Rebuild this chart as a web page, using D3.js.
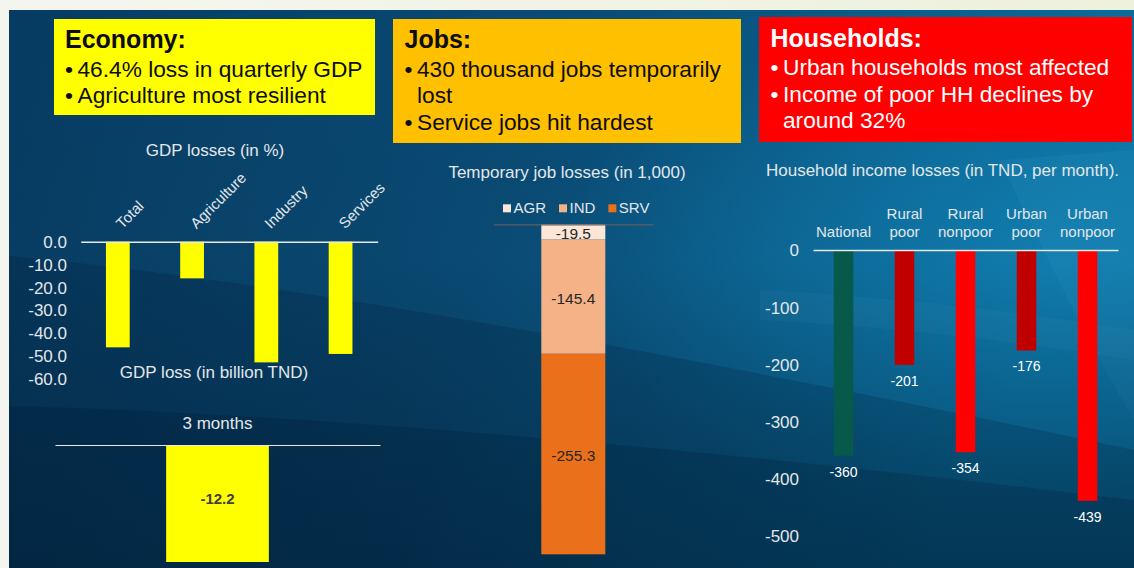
<!DOCTYPE html>
<html><head><meta charset="utf-8">
<script src="https://cdn.jsdelivr.net/npm/d3@7"></script>
<style>
body{margin:0;background:#f3f4ec;overflow:hidden;}
svg{display:block;font-family:"Liberation Sans",Arial,sans-serif;}
</style>
</head><body>
<svg id="c" width="1134" height="568"></svg>
<script>
// ---------------- DATA ----------------
const gdpCategories = ["Total", "Agriculture", "Industry", "Services"];
const gdpLosses = [-46.4, -16.1, -53.0, -49.3];
const gdpTicks = [0, -10, -20, -30, -40, -50, -60];

const gdpLossPeriods = ["3 months"];
const gdpLossValues = [-12.2];

const jobSectors = ["AGR", "IND", "SRV"];
const jobLosses = [-19.5, -145.4, -255.3];

const hhCategories = ["National", "Rural poor", "Rural nonpoor", "Urban poor", "Urban nonpoor"];
const hhLabelLines = [["National"], ["Rural", "poor"], ["Rural", "nonpoor"], ["Urban", "poor"], ["Urban", "nonpoor"]];
const hhLosses = [-360, -201, -354, -176, -439];
const hhTicks = [0, -100, -200, -300, -400, -500];

const economyText = ["Economy:", "46.4% loss in quarterly GDP", "Agriculture most resilient"];
const jobsText = ["Jobs:", "430 thousand jobs temporarily", "lost", "Service jobs hit hardest"];
const householdsText = ["Households:", "Urban households most affected", "Income of poor HH declines by", "around 32%"];

// ---------------- STYLES ----------------
const jobColors = ["#fce6d8", "#f5b286", "#ea701b"];
const hhColors = ["#075a4a", "#c00000", "#ff0000", "#c00000", "#ff0000"];
const axisText = "#e3e7ea";

const svg = d3.select("#c");
const W = 1134, H = 568;
const defs = svg.append("defs");

// ---------------- BACKGROUND ----------------
const gH = defs.append("linearGradient").attr("id", "bgH")
  .attr("x1", "0").attr("y1", "0").attr("x2", "1").attr("y2", "0.25");
gH.append("stop").attr("offset", "0").attr("stop-color", "#073b61");
gH.append("stop").attr("offset", "0.5").attr("stop-color", "#0a4c76");
gH.append("stop").attr("offset", "1").attr("stop-color", "#0a70a0");
const gV = defs.append("linearGradient").attr("id", "bgV")
  .attr("x1", "0").attr("y1", "0").attr("x2", "0").attr("y2", "1");
gV.append("stop").attr("offset", "0").attr("stop-color", "#001a30").attr("stop-opacity", 0);
gV.append("stop").attr("offset", "0.45").attr("stop-color", "#001a30").attr("stop-opacity", 0.05);
gV.append("stop").attr("offset", "1").attr("stop-color", "#001a30").attr("stop-opacity", 0.45);
const gR = defs.append("radialGradient").attr("id", "bgR")
  .attr("cx", "0.93").attr("cy", "0.45").attr("r", "0.45");
gR.append("stop").attr("offset", "0").attr("stop-color", "#1a9ad0").attr("stop-opacity", 0.45);
gR.append("stop").attr("offset", "1").attr("stop-color", "#1a9ad0").attr("stop-opacity", 0);
const gTop = defs.append("linearGradient").attr("id", "bgTop")
  .attr("x1", "0").attr("y1", "0").attr("x2", "1").attr("y2", "0");
gTop.append("stop").attr("offset", "0").attr("stop-color", "#f5f5f0");
gTop.append("stop").attr("offset", "1").attr("stop-color", "#eef1dc");

svg.append("rect").attr("width", W).attr("height", H).attr("fill", "url(#bgTop)");
svg.append("rect").attr("x", 9).attr("y", 10).attr("width", W - 9).attr("height", H - 10).attr("fill", "url(#bgH)");
svg.append("rect").attr("x", 9).attr("y", 10).attr("width", W - 9).attr("height", H - 10).attr("fill", "url(#bgR)");
svg.append("path").attr("d", "M9,256 Q380,290 1134,450 L1134,568 L9,568Z").attr("fill", "rgba(0,18,38,0.18)");
svg.append("path").attr("d", "M9,406 Q450,418 1134,500 L1134,568 L9,568Z").attr("fill", "rgba(0,12,28,0.18)");
svg.append("path").attr("d", "M760,290 Q950,300 1134,330 L1134,360 Q950,330 760,320Z").attr("fill", "rgba(120,200,235,0.06)");
svg.append("path").attr("d", "M1000,160 L1134,150 L1134,420 Q1080,330 1000,160Z").attr("fill", "rgba(120,200,235,0.07)");
svg.append("rect").attr("x", 9).attr("y", 10).attr("width", W - 9).attr("height", H - 10).attr("fill", "url(#bgV)");

// ---------------- TEXT BOXES ----------------
function textBox(x, y, w, h, fill, color, lines, textX, bullets, baselines) {
  const g = svg.append("g");
  g.append("rect").attr("x", x).attr("y", y).attr("width", w).attr("height", h).attr("fill", fill);
  lines.forEach((t, i) => {
    if (i === 0) {
      g.append("text").attr("x", textX).attr("y", baselines[0]).attr("fill", color)
        .attr("font-size", 25).attr("font-weight", "bold").text(t);
    } else {
      if (bullets[i]) {
        g.append("text").attr("x", textX).attr("y", baselines[i]).attr("fill", color)
          .attr("font-size", 22.7).text("\u2022");
      }
      g.append("text").attr("x", textX + 12.5).attr("y", baselines[i]).attr("fill", color)
        .attr("font-size", 22.7).text(t);
    }
  });
}
textBox(54, 19, 321, 96, "#ffff00", "#0d0d0d", economyText, 65, [false, true, true], [47.7, 76.7, 103.3]);
textBox(393, 19, 348, 124, "#ffc000", "#0d0d0d", jobsText, 404.5, [false, true, false, true], [47.7, 76.5, 102.5, 130]);
textBox(759, 17, 373, 125, "#ff0000", "#ffffff", householdsText, 770.5, [false, true, true, false], [46.7, 75, 101.7, 128.3]);

// ---------------- GDP LOSSES (in %) ----------------
{
  const x = d3.scaleBand().domain(gdpCategories).range([80.7, 377.7]).paddingInner(0.68).paddingOuter(0.34);
  const y = d3.scaleLinear().domain([-60, 0]).range([378.3, 241.7]);
  const g = svg.append("g");
  g.append("text").attr("x", 215).attr("y", 155.7).attr("text-anchor", "middle")
    .attr("fill", axisText).attr("font-size", 17).text("GDP losses (in %)");
  const ax = g.append("g").attr("transform", "translate(70,0.5)")
    .call(d3.axisLeft(y).tickValues(gdpTicks).tickSize(0).tickPadding(3).tickFormat(d => d.toFixed(1)));
  ax.select(".domain").remove();
  ax.selectAll("text").attr("fill", axisText).attr("font-size", 17).attr("font-family", "Liberation Sans, Arial, sans-serif");
  g.selectAll("rect.bar").data(gdpLosses).join("rect").attr("class", "bar")
    .attr("x", (d, i) => x(gdpCategories[i])).attr("width", x.bandwidth())
    .attr("y", y(0)).attr("height", d => y(d) - y(0)).attr("fill", "#ffff00");
  const base = g.append("g").attr("transform", `translate(0,${y(0)})`)
    .call(d3.axisBottom(x).tickSize(0).tickFormat(""));
  base.select(".domain").attr("stroke", "#e8e8e8").attr("stroke-width", 1.5);
  g.selectAll("text.cat").data(gdpCategories).join("text").attr("class", "cat")
    .attr("transform", d => `translate(${x(d) + x.bandwidth() / 2 + 4.5},229.5) rotate(-45)`)
    .attr("fill", axisText).attr("font-size", 15).text(d => d);
}

// ---------------- GDP LOSS (in billion TND) ----------------
{
  const x = d3.scaleBand().domain(gdpLossPeriods).range([55, 380]).paddingInner(0.684).paddingOuter(0.342);
  const y = d3.scaleLinear().domain([-12.2, 0]).range([562, 445]);
  const g = svg.append("g");
  g.append("text").attr("x", 214).attr("y", 377.7).attr("text-anchor", "middle")
    .attr("fill", axisText).attr("font-size", 17).text("GDP loss (in billion TND)");
  g.selectAll("text.cat").data(gdpLossPeriods).join("text").attr("class", "cat")
    .attr("x", d => x(d) + x.bandwidth() / 2).attr("y", 429.3).attr("text-anchor", "middle")
    .attr("fill", axisText).attr("font-size", 17).text(d => d);
  g.selectAll("rect.bar").data(gdpLossValues).join("rect").attr("class", "bar")
    .attr("x", (d, i) => x(gdpLossPeriods[i])).attr("width", x.bandwidth())
    .attr("y", y(0)).attr("height", d => y(d) - y(0)).attr("fill", "#ffff00");
  g.selectAll("text.val").data(gdpLossValues).join("text").attr("class", "val")
    .attr("x", (d, i) => x(gdpLossPeriods[i]) + x.bandwidth() / 2)
    .attr("y", d => (y(0) + y(d)) / 2 - 4.5).attr("dy", "0.35em").attr("text-anchor", "middle")
    .attr("fill", "#404040").attr("font-size", 15).attr("font-weight", "bold").text(d => d.toFixed(1));
  const base = g.append("g").attr("transform", `translate(0,${y(0)})`)
    .call(d3.axisBottom(x).tickSize(0).tickFormat(""));
  base.select(".domain").attr("stroke", "#e8e8e8").attr("stroke-width", 1.2);
}

// ---------------- TEMPORARY JOB LOSSES ----------------
{
  const x = d3.scaleBand().domain(["Jobs"]).range([493.3, 653.3]).paddingInner(0.6).paddingOuter(0.3);
  const y = d3.scaleLinear().domain([-420.2, 0]).range([554.3, 224.3]);
  const g = svg.append("g");
  g.append("text").attr("x", 567).attr("y", 177.7).attr("text-anchor", "middle")
    .attr("fill", axisText).attr("font-size", 17).text("Temporary job losses (in 1,000)");
  // legend
  let lx = 503;
  jobSectors.forEach((s, i) => {
    g.append("rect").attr("x", lx).attr("y", 204.3).attr("width", 8).attr("height", 8).attr("fill", jobColors[i]);
    const t = g.append("text").attr("x", lx + 10.5).attr("y", 213.3).attr("fill", axisText)
      .attr("font-size", 15).text(s);
    lx += 10.5 + t.node().getComputedTextLength() + 13;
  });
  // stacked segments
  let cum = 0;
  const segs = jobLosses.map(v => { const s = { y0: cum, y1: cum + v, v }; cum += v; return s; });
  g.selectAll("rect.seg").data(segs).join("rect").attr("class", "seg")
    .attr("x", x("Jobs")).attr("width", x.bandwidth())
    .attr("y", d => y(d.y0)).attr("height", d => y(d.y1) - y(d.y0))
    .attr("fill", (d, i) => jobColors[i]);
  g.selectAll("text.val").data(segs).join("text").attr("class", "val")
    .attr("x", x("Jobs") + x.bandwidth() / 2)
    .attr("y", d => (y(d.y0) + y(d.y1)) / 2 + 1.5).attr("dy", "0.35em").attr("text-anchor", "middle")
    .attr("fill", "#262626").attr("font-size", 15.5).text(d => d.v.toFixed(1));
  const base = g.append("g").attr("transform", `translate(0,${y(0)})`)
    .call(d3.axisBottom(x).tickSize(0).tickFormat(""));
  base.select(".domain").attr("stroke", "#5f5f5f").attr("stroke-width", 1.2);
}

// ---------------- HOUSEHOLD INCOME LOSSES ----------------
{
  const x = d3.scaleBand().domain(hhCategories).range([813, 1118]).paddingInner(0.68).paddingOuter(0.34);
  const y = d3.scaleLinear().domain([-500, 0]).range([535.7, 250]);
  const g = svg.append("g");
  g.append("text").attr("x", 942.5).attr("y", 176).attr("text-anchor", "middle")
    .attr("fill", axisText).attr("font-size", 17).text("Household income losses (in TND, per month).");
  const ax = g.append("g").attr("transform", "translate(802,0.5)")
    .call(d3.axisLeft(y).tickValues(hhTicks).tickSize(0).tickPadding(3).tickFormat(d => String(d)));
  ax.select(".domain").remove();
  ax.selectAll("text").attr("fill", axisText).attr("font-size", 17).attr("font-family", "Liberation Sans, Arial, sans-serif");
  g.selectAll("rect.bar").data(hhLosses).join("rect").attr("class", "bar")
    .attr("x", (d, i) => x(hhCategories[i])).attr("width", x.bandwidth())
    .attr("y", y(0)).attr("height", d => y(d) - y(0)).attr("fill", (d, i) => hhColors[i]);
  g.selectAll("text.val").data(hhLosses).join("text").attr("class", "val")
    .attr("x", (d, i) => x(hhCategories[i]) + x.bandwidth() / 2)
    .attr("y", d => y(d) + 16).attr("dy", "0.35em").attr("text-anchor", "middle")
    .attr("fill", "#ffffff").attr("font-size", 14).text(d => String(d));
  hhCategories.forEach((c, i) => {
    const lines = hhLabelLines[i];
    lines.forEach((ln, j) => {
      g.append("text").attr("x", x(c) + x.bandwidth() / 2)
        .attr("y", 237 - (lines.length - 1 - j) * 18).attr("text-anchor", "middle")
        .attr("fill", axisText).attr("font-size", 15).text(ln);
    });
  });
  const base = g.append("g").attr("transform", `translate(0,${y(0)})`)
    .call(d3.axisBottom(x).tickSize(0).tickFormat(""));
  base.select(".domain").attr("stroke", "#e8e8e8").attr("stroke-width", 1.5);
}
</script>
</body></html>
